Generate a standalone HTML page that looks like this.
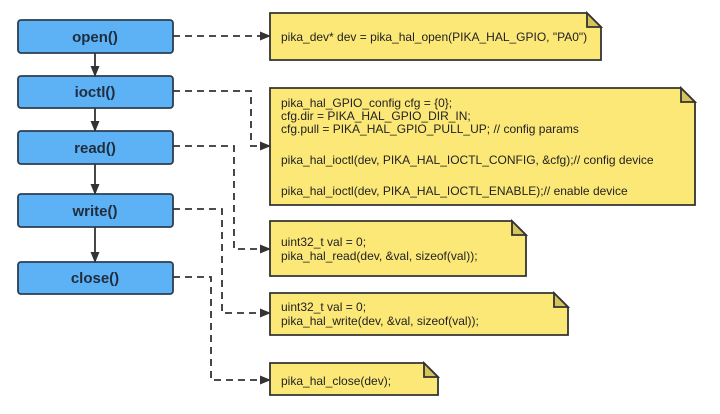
<!DOCTYPE html>
<html><head><style>body{margin:0;background:#fff}svg{display:block}</style></head>
<body>
<svg width="720" height="414" xmlns="http://www.w3.org/2000/svg" font-family="Liberation Sans, sans-serif">
<defs>
<marker id="a" markerWidth="11" markerHeight="9" refX="10" refY="4.5" orient="auto" markerUnits="userSpaceOnUse"><path d="M0,0 L11,4.5 L0,9 z" fill="#333"/></marker>
</defs>
<g fill="#5db1f5" stroke="#2c3e50" stroke-width="1.8">
<rect x="18" y="20" width="155" height="33" rx="3"/>
<rect x="18" y="76" width="155" height="32" rx="3"/>
<rect x="18" y="131" width="155" height="33" rx="3"/>
<rect x="18" y="194" width="155" height="33" rx="3"/>
<rect x="18" y="262" width="155" height="32" rx="3"/>
</g>
<g font-size="15" font-weight="bold" fill="#1f2d3d" text-anchor="middle">
<text x="95" y="42">open()</text>
<text x="95" y="97">ioctl()</text>
<text x="95" y="153">read()</text>
<text x="95" y="216">write()</text>
<text x="95" y="283">close()</text>
</g>
<g stroke="#333" stroke-width="1.8" marker-end="url(#a)">
<line x1="95" y1="53" x2="95" y2="76"/>
<line x1="95" y1="108" x2="95" y2="131"/>
<line x1="95" y1="164" x2="95" y2="194"/>
<line x1="95" y1="227" x2="95" y2="262"/>
</g>
<g fill="none" stroke="#333" stroke-width="1.8" stroke-dasharray="7,5" marker-end="url(#a)">
<path d="M173 36 H270"/>
<path d="M173 91 H251 V146 H270"/>
<path d="M173 146 H234 V249 H270"/>
<path d="M173 209 H222 V313 H270"/>
<path d="M173 277 H211 V380 H270"/>
</g>
<g fill="#fce877" stroke="#333" stroke-width="1.8">
<path d="M270 13 H587 L601 27 V60 H270 Z"/>
<path d="M270 88 H681 L695 102 V205 H270 Z"/>
<path d="M270 221 H512 L526 235 V276 H270 Z"/>
<path d="M270 293 H554 L568 307 V335 H270 Z"/>
<path d="M270 363 H424 L438 377 V395 H270 Z"/>
</g>
<g fill="#d4c45a" stroke="#333" stroke-width="1.8">
<path d="M587 13 V27 H601 Z"/>
<path d="M681 88 V102 H695 Z"/>
<path d="M512 221 V235 H526 Z"/>
<path d="M554 293 V307 H568 Z"/>
<path d="M424 363 V377 H438 Z"/>
</g>
<g font-size="12" fill="#222">
<text x="281" y="41">pika_dev* dev = pika_hal_open(PIKA_HAL_GPIO, "PA0")</text>
<text x="281" y="107">pika_hal_GPIO_config cfg  = {0};</text>
<text x="281" y="120">cfg.dir = PIKA_HAL_GPIO_DIR_IN;</text>
<text x="281" y="133">cfg.pull = PIKA_HAL_GPIO_PULL_UP; // config params</text>
<text x="281" y="164">pika_hal_ioctl(dev, PIKA_HAL_IOCTL_CONFIG, &amp;cfg);// config device</text>
<text x="281" y="195">pika_hal_ioctl(dev, PIKA_HAL_IOCTL_ENABLE);// enable device</text>
<text x="281" y="246">uint32_t val = 0;</text>
<text x="281" y="260">pika_hal_read(dev, &amp;val, sizeof(val));</text>
<text x="281" y="311">uint32_t val = 0;</text>
<text x="281" y="325">pika_hal_write(dev, &amp;val, sizeof(val));</text>
<text x="281" y="385">pika_hal_close(dev);</text>
</g>
</svg>
</body></html>
